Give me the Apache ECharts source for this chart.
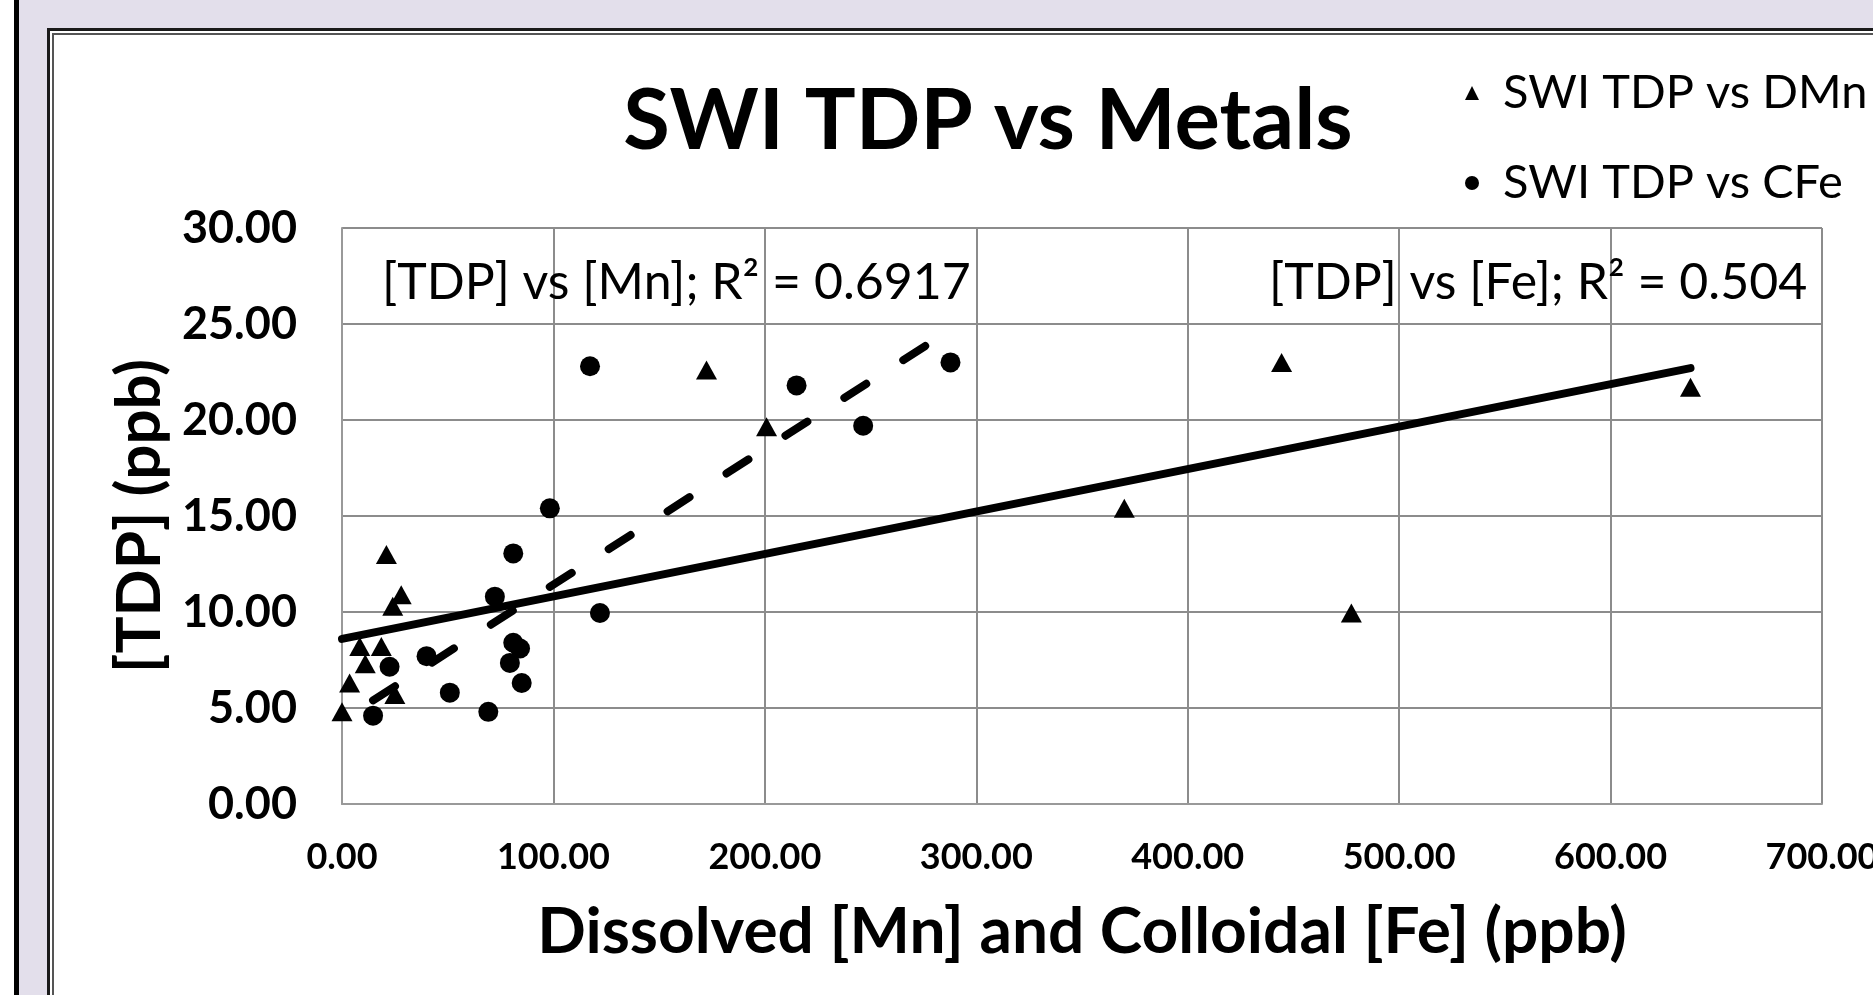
<!DOCTYPE html>
<html>
<head>
<meta charset="utf-8">
<script src="https://cdn.jsdelivr.net/npm/echarts@6/dist/echarts.min.js"></script>
<style>
html,body{margin:0;padding:0;background:#E3DFEB;}
#chart{width:1873px;height:995px;}
</style>
</head>
<body>
<div id="chart"></div>
<script>
// Data
const dmnX = [0, 3.6, 8.4, 18.6, 11, 25, 24, 28, 21, 172.4, 200.8, 370, 444.4, 477.4, 637.8];
const dmnY = [4.8, 6.3, 8.2, 8.2, 7.3, 5.7, 10.3, 10.9, 13.0, 22.6, 19.65, 15.4, 23.0, 9.95, 21.7];
const cfeX = [14.7, 22.5, 40, 51, 69.2, 72.3, 79.4, 81, 84.2, 85, 81, 98.3, 117.3, 122, 215, 246.5, 287.8];
const cfeY = [4.6, 7.15, 7.7, 5.8, 4.8, 10.8, 7.35, 8.4, 8.1, 6.3, 13.05, 15.4, 22.8, 9.95, 21.8, 19.7, 23.0];
// Trendlines
const solidTrendX = [0, 637.8];
const solidTrendY = [8.6, 22.7];
const dashTrendX = [14.7, 287.8];
const dashTrendY = [5.4, 24.7];
const seriesNames = ['SWI TDP vs DMn', 'SWI TDP vs CFe'];
const trendLabels = ['[TDP] vs [Mn]; R² = 0.6917', '[TDP] vs [Fe]; R² = 0.504'];
const titleText = 'SWI TDP vs Metals';
const xName = 'Dissolved [Mn] and Colloidal [Fe] (ppb)';
const yName = '[TDP] (ppb)';

const zip = (xs, ys) => xs.map((x, i) => [x, ys[i]]);
const FONT = 'Lato';

const chart = echarts.init(document.getElementById('chart'), null, {renderer: 'canvas'});
chart.setOption({
  backgroundColor: '#E3DFEB',
  animation: false,
  textStyle: {fontFamily: FONT, color: '#000'},
  title: {
    text: titleText,
    left: 983,
    textAlign: 'center',
    top: 74,
    textStyle: {fontFamily: FONT, fontSize: 85, fontWeight: 'bold', color: '#000'}
  },
  legend: {
    orient: 'vertical',
    left: 1465,
    top: 69,
    padding: 0,
    itemWidth: 14,
    itemHeight: 14,
    itemGap: 42,
    itemStyle: {color: '#000', opacity: 1},
    data: [
      {name: seriesNames[0], icon: 'triangle'},
      {name: seriesNames[1], icon: 'circle'}
    ],
    textStyle: {fontFamily: FONT, fontSize: 47, color: '#000', lineHeight: 48, padding: [0, 0, 0, 19]}
  },
  grid: {left: 342, top: 228, right: 51, bottom: 191, containLabel: false, outerBoundsMode: 'none'},
  xAxis: {
    type: 'value', min: 0, max: 700, interval: 100,
    name: xName, nameLocation: 'middle', nameGap: 96,
    nameTextStyle: {fontFamily: FONT, fontSize: 64, fontWeight: 'bold', color: '#000'},
    axisLine: {show: true, lineStyle: {color: '#999', width: 2}},
    axisTick: {show: false},
    splitLine: {show: true, lineStyle: {color: '#8c8c8c', width: 2}},
    axisLabel: {fontFamily: FONT, fontSize: 36, fontWeight: 'bold', color: '#000', margin: 35,
      formatter: v => v.toFixed(2)}
  },
  yAxis: {
    type: 'value', min: 0, max: 30, interval: 5,
    name: yName, nameLocation: 'middle', nameGap: 170,
    nameTextStyle: {fontFamily: FONT, fontSize: 62, fontWeight: 'bold', color: '#000'},
    axisLine: {show: true, lineStyle: {color: '#999', width: 2}},
    axisTick: {show: false},
    splitLine: {show: true, lineStyle: {color: '#8c8c8c', width: 2}},
    axisLabel: {fontFamily: FONT, fontSize: 45, fontWeight: 'bold', color: '#000', margin: 45,
      formatter: v => v.toFixed(2)}
  },
  graphic: [
    {type: 'rect', z: -10, shape: {x: 0, y: 0, width: 14, height: 995}, style: {fill: '#fff'}},
    {type: 'rect', z: -10, shape: {x: 14, y: 0, width: 5, height: 995}, style: {fill: '#000'}},
    {type: 'rect', z: -10, shape: {x: 48.5, y: 29.5, width: 2000, height: 2000}, style: {fill: '#fff', stroke: '#1a1a1a', lineWidth: 3}},
    {type: 'rect', z: -9, shape: {x: 53, y: 34, width: 2000, height: 2000}, style: {fill: 'none', stroke: '#555', lineWidth: 2}},
    {type: 'text', z: 10, left: 382, top: 258, style: {text: trendLabels[0], font: '50px Lato', fill: '#000'}},
    {type: 'text', z: 10, left: 1269, top: 258, style: {text: trendLabels[1], font: '50px Lato', fill: '#000'}}
  ],
  series: [
    {name: seriesNames[0], type: 'scatter', symbol: 'triangle', symbolSize: [21, 19],
      itemStyle: {color: '#000', opacity: 1}, data: zip(dmnX, dmnY), z: 3},
    {name: seriesNames[1], type: 'scatter', symbol: 'circle', symbolSize: 20,
      itemStyle: {color: '#000', opacity: 1}, data: zip(cfeX, cfeY), z: 3},
    {name: 'trend-solid', type: 'line', symbol: 'none', data: zip(solidTrendX, solidTrendY),
      lineStyle: {color: '#000', width: 8, cap: 'round'}, z: 4, silent: true},
    {name: 'trend-dash', type: 'line', symbol: 'none', data: zip(dashTrendX, dashTrendY),
      lineStyle: {color: '#000', width: 8, cap: 'round', type: [26, 44]}, z: 4, silent: true}
  ]
});
</script>
</body>
</html>
